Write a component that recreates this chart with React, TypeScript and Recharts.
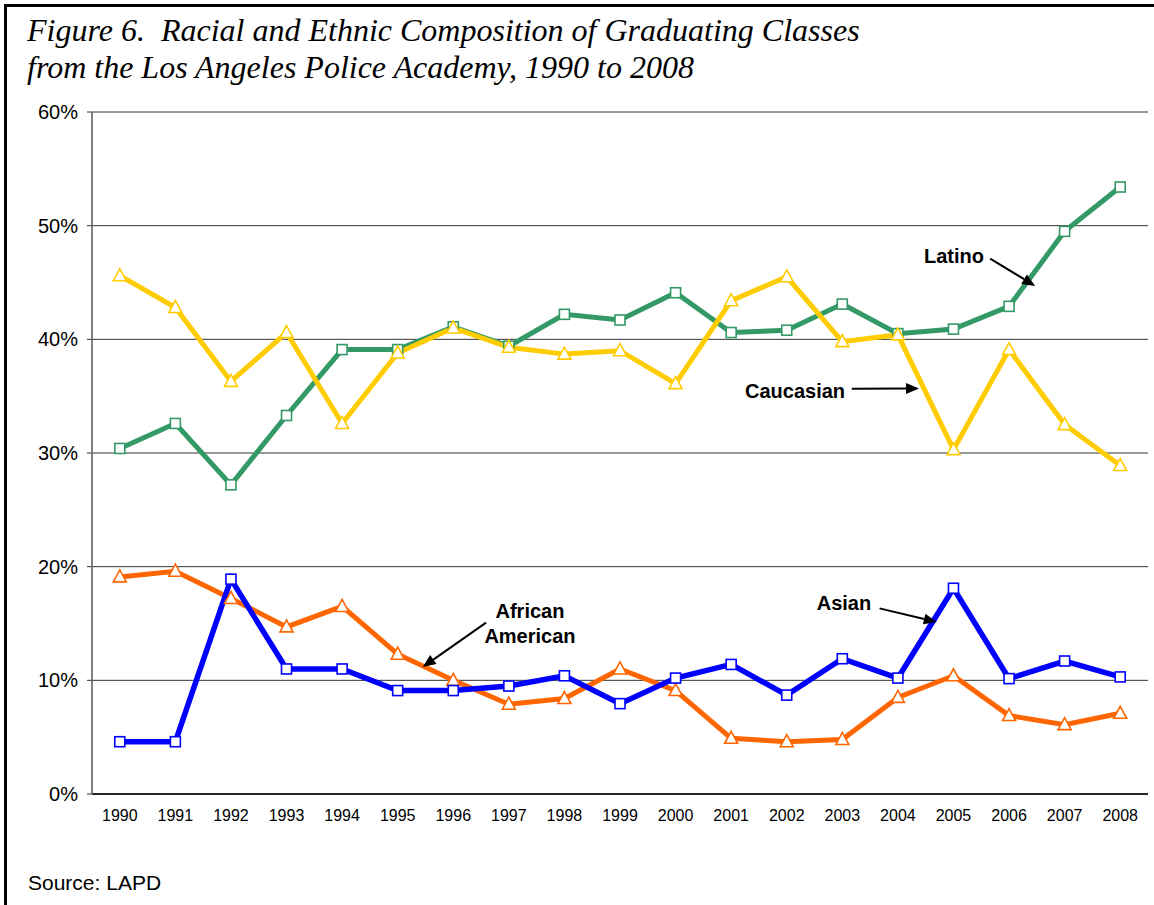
import React from "react";
import {
  LineChart,
  Line,
  XAxis,
  YAxis,
  CartesianGrid,
  ReferenceLine,
  ReferenceDot,
} from "recharts";

const years = [1990, 1991, 1992, 1993, 1994, 1995, 1996, 1997, 1998, 1999, 2000, 2001, 2002, 2003, 2004, 2005, 2006, 2007, 2008];
const latino = [30.4, 32.6, 27.2, 33.3, 39.1, 39.1, 41.1, 39.4, 42.2, 41.7, 44.1, 40.6, 40.8, 43.1, 40.5, 40.9, 42.9, 49.5, 53.4];
const caucasian = [45.6, 42.8, 36.3, 40.6, 32.6, 38.8, 41.0, 39.3, 38.7, 39.0, 36.1, 43.4, 45.5, 39.8, 40.4, 30.3, 39.1, 32.5, 28.9];
const africanAmerican = [19.1, 19.6, 17.2, 14.7, 16.5, 12.3, 10.0, 7.9, 8.4, 11.0, 9.1, 4.9, 4.6, 4.8, 8.5, 10.4, 6.9, 6.1, 7.1];
const asian = [4.6, 4.6, 18.9, 11.0, 11.0, 9.1, 9.1, 9.5, 10.4, 7.95, 10.2, 11.4, 8.7, 11.9, 10.2, 18.1, 10.15, 11.7, 10.3];
const yTicks = [0, 10, 20, 30, 40, 50, 60];

const data = years.map((y, i) => ({
  year: y,
  latino: latino[i],
  caucasian: caucasian[i],
  africanAmerican: africanAmerican[i],
  asian: asian[i],
}));

const GREEN = "#339966";
const YELLOW = "#FFCC00";
const ORANGE = "#FF6600";
const BLUE = "#0000FF";

const squareDot = (color: string) => (props: any) => {
  const { cx, cy, index } = props;
  if (cx == null || cy == null) return <g key={index} />;
  return (
    <rect
      key={index}
      x={cx - 5}
      y={cy - 5}
      width={10}
      height={10}
      fill="#fff"
      stroke={color}
      strokeWidth={1.6}
    />
  );
};

const triangleDot = (color: string) => (props: any) => {
  const { cx, cy, index } = props;
  if (cx == null || cy == null) return <g key={index} />;
  const pts = `${cx},${cy - 7} ${cx + 6.5},${cy + 5} ${cx - 6.5},${cy + 5}`;
  return <polygon key={index} points={pts} fill="#fff" stroke={color} strokeWidth={1.6} />;
};

const arrowShape = (props: any) => {
  const { x1, y1, x2, y2 } = props;
  if ([x1, y1, x2, y2].some((v) => v == null || isNaN(v))) return <g />;
  const dx = x2 - x1;
  const dy = y2 - y1;
  const len = Math.sqrt(dx * dx + dy * dy);
  const ux = dx / len;
  const uy = dy / len;
  const headLen = 13;
  const headW = 5.5;
  const bx = x2 - ux * headLen;
  const by = y2 - uy * headLen;
  const pts = `${x2},${y2} ${bx - uy * headW},${by + ux * headW} ${bx + uy * headW},${by - ux * headW}`;
  return (
    <g>
      <line x1={x1} y1={y1} x2={bx} y2={by} stroke="#000" strokeWidth={2} />
      <polygon points={pts} fill="#000" />
    </g>
  );
};

const textShape = (lines: string[], anchor: string) => (props: any) => {
  const { cx, cy } = props;
  if (cx == null || cy == null) return <g />;
  return (
    <text
      x={cx}
      y={cy}
      textAnchor={anchor as any}
      fontFamily="Arial, 'Liberation Sans', sans-serif"
      fontWeight="bold"
      fontSize={20}
      fill="#000"
    >
      {lines.map((l, i) => (
        <tspan key={i} x={cx} dy={i === 0 ? "0.35em" : 25}>
          {l}
        </tspan>
      ))}
    </text>
  );
};

export default function App() {
  return (
    <div
      style={{
        position: "absolute",
        left: 0,
        top: 0,
        width: 1154,
        height: 905,
        background: "#fff",
        overflow: "hidden",
      }}
    >
      <div
        style={{
          position: "absolute",
          left: 4,
          top: 4,
          width: 1160,
          height: 920,
          borderLeft: "3px solid #000",
          borderTop: "3px solid #000",
        }}
      />
      <div
        style={{
          position: "absolute",
          left: 27,
          top: 12,
          fontFamily: "'Times New Roman', 'Liberation Serif', serif",
          fontStyle: "italic",
          fontSize: 32,
          lineHeight: "37px",
          color: "#000",
          whiteSpace: "pre",
        }}
      >
        {"Figure 6.  Racial and Ethnic Composition of Graduating Classes\nfrom the Los Angeles Police Academy, 1990 to 2008"}
      </div>
      <div style={{ position: "absolute", left: 0, top: 0 }}>
        <LineChart
          width={1154}
          height={905}
          data={data}
          margin={{ top: 112, right: 6, bottom: 81, left: 0 }}
        >
          <CartesianGrid horizontal vertical={false} stroke="#333" strokeWidth={1} />
          <XAxis
            dataKey="year"
            type="number"
            domain={[1989.5, 2008.5]}
            ticks={years}
            interval={0}
            height={30}
            tickLine={false}
            tickSize={0}
            tickMargin={16}
            axisLine={{ stroke: "#000", strokeWidth: 1.5 }}
            tick={{ fill: "#000", fontSize: 16, fontFamily: "Arial, 'Liberation Sans', sans-serif" }}
          />
          <YAxis
            type="number"
            domain={[0, 60]}
            ticks={yTicks}
            width={92}
            tickSize={5}
            tickMargin={9}
            tickFormatter={(v: number) => `${v}%`}
            axisLine={{ stroke: "#808080", strokeWidth: 2 }}
            tickLine={{ stroke: "#333" }}
            tick={{ fill: "#000", fontSize: 20, fontFamily: "Arial, 'Liberation Sans', sans-serif" }}
          />
          <Line
            dataKey="latino"
            stroke={GREEN}
            strokeWidth={5}
            dot={squareDot(GREEN)}
            isAnimationActive={false}
          />
          <Line
            dataKey="caucasian"
            stroke={YELLOW}
            strokeWidth={5}
            dot={triangleDot(YELLOW)}
            isAnimationActive={false}
          />
          <Line
            dataKey="africanAmerican"
            stroke={ORANGE}
            strokeWidth={5}
            dot={triangleDot(ORANGE)}
            isAnimationActive={false}
          />
          <Line
            dataKey="asian"
            stroke={BLUE}
            strokeWidth={5.5}
            dot={squareDot(BLUE)}
            isAnimationActive={false}
          />
          <ReferenceLine
            segment={[{ x: 2005.66, y: 47.1 }, { x: 2006.47, y: 44.7 }]}
            shape={arrowShape}
          />
          <ReferenceLine
            segment={[{ x: 2003.17, y: 35.66 }, { x: 2004.38, y: 35.68 }]}
            shape={arrowShape}
          />
          <ReferenceLine
            segment={[{ x: 2003.67, y: 16.33 }, { x: 2004.7, y: 15.13 }]}
            shape={arrowShape}
          />
          <ReferenceLine
            segment={[{ x: 1996.59, y: 15.08 }, { x: 1995.45, y: 11.17 }]}
            shape={arrowShape}
          />
          <ReferenceDot x={2005.55} y={47.3} r={0} shape={textShape(["Latino"], "end")} />
          <ReferenceDot x={2003.05} y={35.44} r={0} shape={textShape(["Caucasian"], "end")} />
          <ReferenceDot x={2003.52} y={16.77} r={0} shape={textShape(["Asian"], "end")} />
          <ReferenceDot
            x={1997.38}
            y={16.07}
            r={0}
            shape={textShape(["African", "American"], "middle")}
          />
        </LineChart>
      </div>
      <div
        style={{
          position: "absolute",
          left: 28,
          top: 871,
          fontFamily: "Arial, 'Liberation Sans', sans-serif",
          fontSize: 21,
          color: "#000",
        }}
      >
        Source: LAPD
      </div>
    </div>
  );
}
